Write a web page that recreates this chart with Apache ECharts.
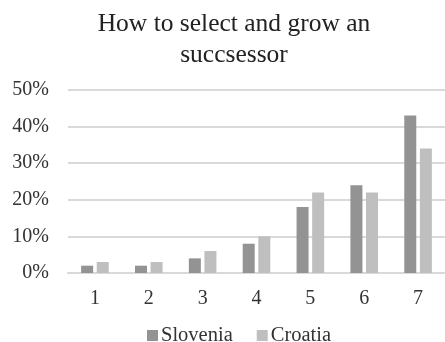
<!DOCTYPE html>
<html><head><meta charset="utf-8">
<script src="https://cdn.jsdelivr.net/npm/echarts@6/dist/echarts.min.js"></script>
<style>html,body{margin:0;padding:0;background:#fff}#c{width:445px;height:342px}</style>
</head><body><div id="c"></div>
<script>
var categories = ['1','2','3','4','5','6','7'];
var slovenia = [2, 2, 4, 8, 18, 24, 43];
var croatia = [3, 3, 6, 10, 22, 22, 34];
var titleText = 'How to select and grow an\nsuccsessor';
var font = 'Liberation Serif';
var chart = echarts.init(document.getElementById('c'), null, {renderer:'canvas'});
chart.setOption({
  backgroundColor:'#fff',
  animation:false,
  title:{text:titleText,left:229,top:4,textAlign:'center',
    textStyle:{fontFamily:font,fontSize:25.5,fontWeight:'normal',color:'#222',lineHeight:31}},
  legend:{top:320,left:142,itemWidth:11,itemHeight:11,itemGap:24,icon:'rect',
    textStyle:{fontFamily:font,fontSize:20.5,color:'#333',padding:[0,0,0,-2]},
    data:['Slovenia','Croatia']},
  grid:{left:68,right:0,top:90,bottom:69,containLabel:false},
  xAxis:{type:'category',data:categories,
    axisLine:{lineStyle:{color:'#d9d9d9',width:2}},axisTick:{show:false},
    axisLabel:{fontFamily:font,fontSize:20,color:'#333',margin:16}},
  yAxis:{type:'value',min:0,max:50,interval:10,
    axisLine:{show:false},axisTick:{show:false},
    splitLine:{lineStyle:{color:'#d9d9d9',width:2}},
    axisLabel:{fontFamily:font,fontSize:20,color:'#333',margin:19,formatter:'{value}%'}},
  series:[
    {name:'Slovenia',type:'bar',data:slovenia,barWidth:12,barGap:'30%',itemStyle:{color:'#939393'}},
    {name:'Croatia',type:'bar',data:croatia,barWidth:12,itemStyle:{color:'#bfbfbf'}}
  ]
});
</script></body></html>
